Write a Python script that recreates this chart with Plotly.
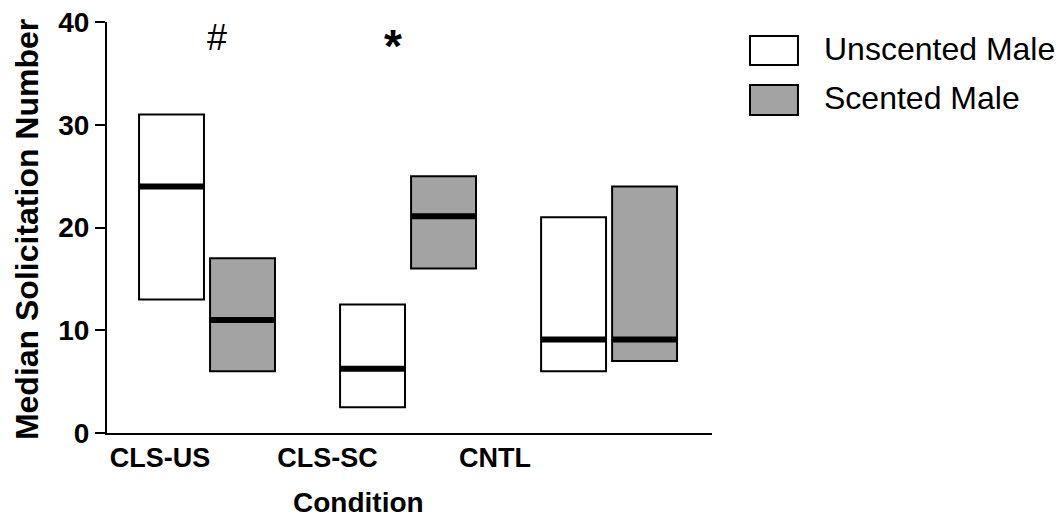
import plotly.graph_objects as go

# ---- data ----
conditions = ["CLS-US", "CLS-SC", "CNTL"]
series_names = ["Unscented Male", "Scented Male"]
unscented_q1 = [13, 2.5, 6]
unscented_q3 = [31, 12.5, 21]
unscented_median = [24, 6.25, 9.1]
scented_q1 = [6, 16, 7]
scented_q3 = [17, 25, 24]
scented_median = [11, 21.1, 9.1]
y_ticks = [0, 10, 20, 30, 40]
sig_marks = ["#", "*"]
sig_groups = [0, 1]

# ---- styling ----
FONT = "Liberation Sans, Arial, Helvetica, sans-serif"
colors = ["#ffffff", "#a3a3a3"]
bar_w = 0.323
offsets = [-0.1766, 0.1766]

fig = go.Figure()
groups = list(range(len(conditions)))
series = [
    (unscented_q1, unscented_q3, unscented_median),
    (scented_q1, scented_q3, scented_median),
]

for s, (q1, q3, med) in enumerate(series):
    xs = [g + offsets[s] for g in groups]
    fig.add_trace(go.Bar(
        x=xs,
        y=[b - a for a, b in zip(q1, q3)],
        base=q1,
        width=bar_w,
        marker=dict(color=colors[s], line=dict(color="black", width=2)),
        name=series_names[s],
        showlegend=False,
        hoverinfo="skip",
    ))
    lx, ly = [], []
    for x, m in zip(xs, med):
        lx += [x - bar_w / 2, x + bar_w / 2, None]
        ly += [m, m, None]
    fig.add_trace(go.Scatter(
        x=lx, y=ly, mode="lines",
        line=dict(color="black", width=6),
        showlegend=False, hoverinfo="skip",
    ))

# significance marks
fig.add_annotation(x=sig_groups[0] + 0.048, y=38.5, text=sig_marks[0], showarrow=False,
                   font=dict(family=FONT, size=36, color="black"))
fig.add_annotation(x=sig_groups[1] - 0.075, y=37.7, text=sig_marks[1], showarrow=False,
                   font=dict(family=FONT, size=46, color="black", weight="bold"))

# manual legend
leg_boxes = [(0.966, 0.8954), (0.8467, 0.7737)]
for s, (ytop, ybot) in enumerate(leg_boxes):
    fig.add_shape(type="rect", xref="paper", yref="paper",
                  x0=1.0628, x1=1.1421, y0=ybot, y1=ytop,
                  fillcolor=colors[s], line=dict(color="black", width=2))
    fig.add_annotation(xref="paper", yref="paper", x=1.1818, y=(ytop + ybot) / 2 + 0.004,
                       xanchor="left", yanchor="middle", text=series_names[s],
                       showarrow=False, font=dict(family=FONT, size=32, color="black"))

# axis titles
fig.add_annotation(xref="paper", yref="paper", x=-0.132, y=0.494, textangle=-90,
                   text="Median Solicitation Number", showarrow=False,
                   xanchor="center", yanchor="middle",
                   font=dict(family=FONT, size=32, color="black", weight="bold"))
fig.add_annotation(xref="paper", yref="paper", x=0.415, y=-0.168,
                   text="Condition", showarrow=False,
                   xanchor="center", yanchor="middle",
                   font=dict(family=FONT, size=28, color="black", weight="bold"))

tick_pos = [i * 0.8333 - 0.234 for i in groups]

fig.update_layout(
    width=1064, height=520,
    margin=dict(l=107, r=352, t=22, b=87),
    paper_bgcolor="white", plot_bgcolor="white",
    barmode="overlay",
    showlegend=False,
    xaxis=dict(
        range=[-0.4975, 2.512], showline=True, linewidth=2, linecolor="black",
        ticks="", showgrid=False, zeroline=False, automargin=False,
        tickvals=tick_pos, ticktext=conditions,
        tickfont=dict(family=FONT, size=27, color="black", weight="bold"),
        ticklabelstandoff=0,
    ),
    yaxis=dict(
        range=[0, 40], tickvals=y_ticks, ticktext=[str(v) for v in y_ticks],
        showline=True, linewidth=2, linecolor="black", automargin=False,
        ticks="outside", ticklen=10, tickwidth=2, tickcolor="black",
        showgrid=False, zeroline=False,
        tickfont=dict(family=FONT, size=28, color="black", weight="bold"),
    ),
)

fig.write_html("out.html")
